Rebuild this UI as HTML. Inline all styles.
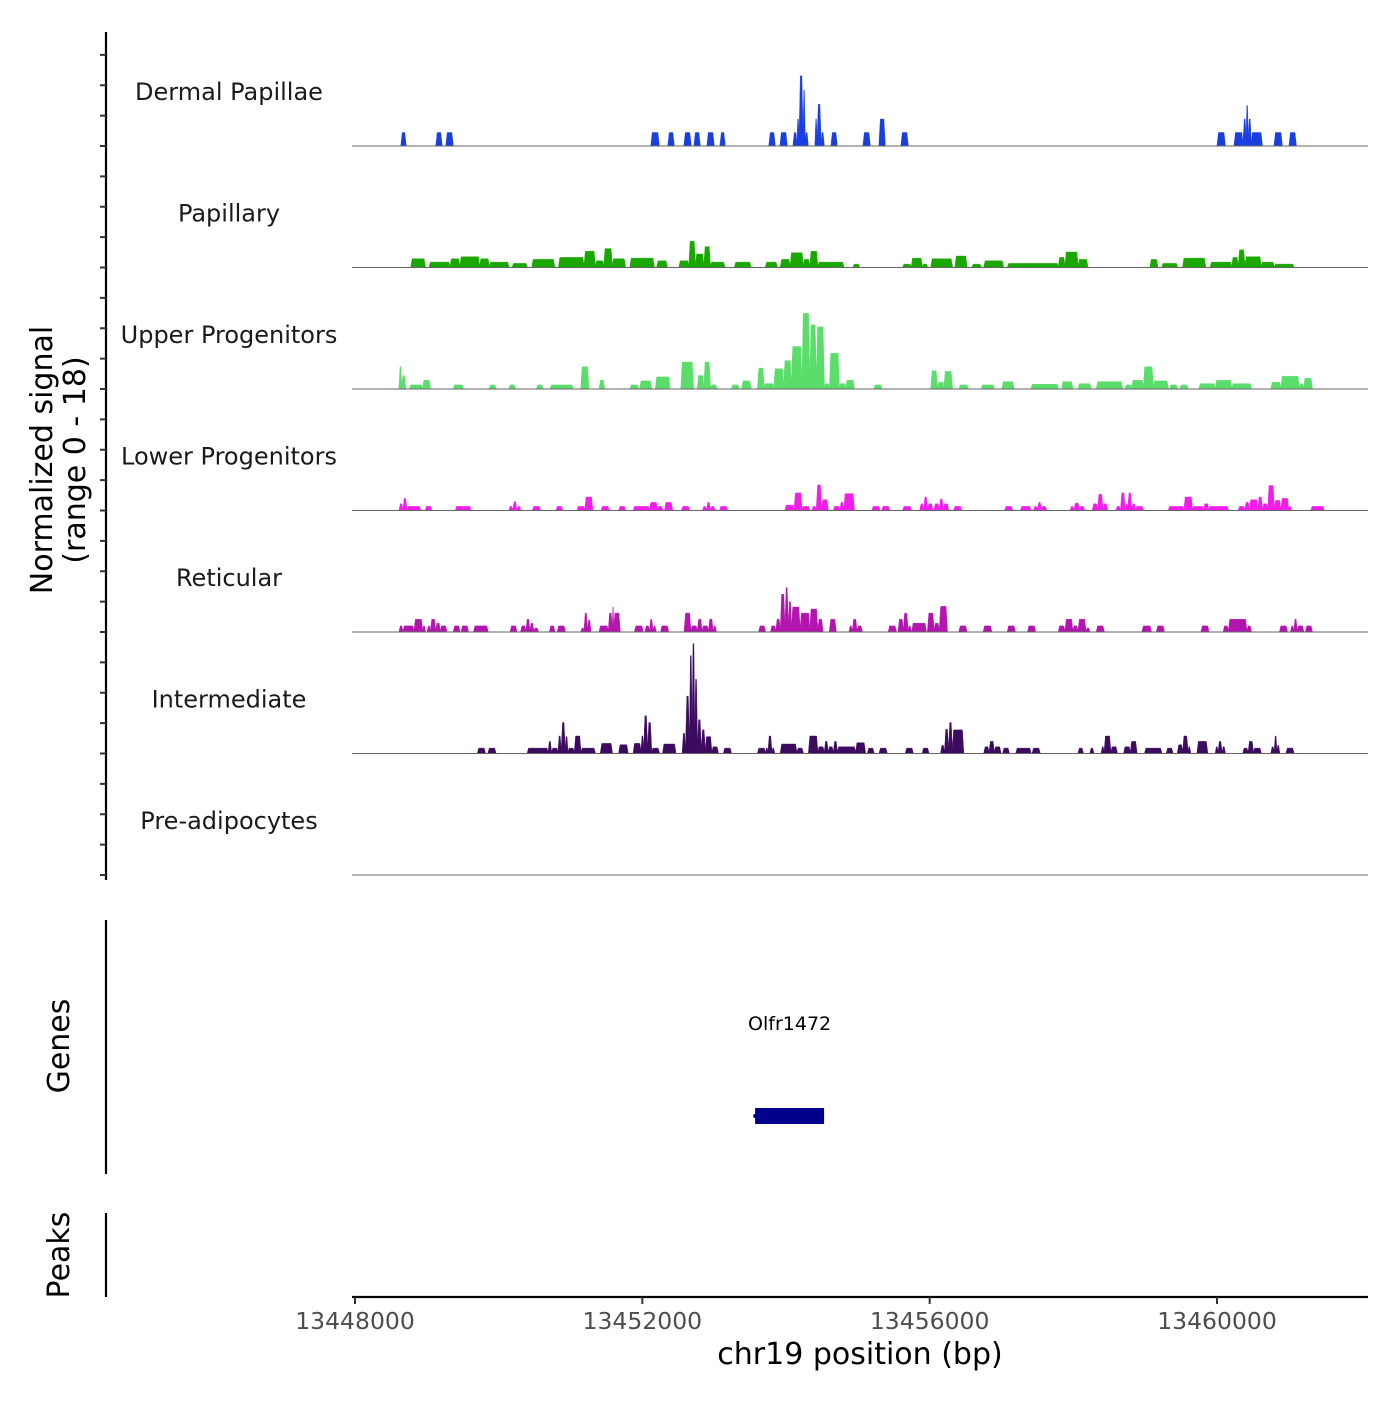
<!DOCTYPE html>
<html><head><meta charset="utf-8"><style>
body{margin:0;background:#fff}
svg text{font-family:"DejaVu Sans","Liberation Sans",sans-serif}
</style></head><body>
<svg id="chart" width="1400" height="1400" viewBox="0 0 1400 1400" xmlns="http://www.w3.org/2000/svg">
<g id="tracks"></g>
<g id="axes"></g>
</svg>
<script>
const BASE = 13448000;
const trackNames = ["Dermal Papillae","Papillary","Upper Progenitors","Lower Progenitors","Reticular","Intermediate","Pre-adipocytes"];
const trackColors = ["#1a3fe0","#1aa800","#5add6a","#f01ee8","#b515af","#3c0a5e","#888888"];
const xTicks = [13448000,13452000,13456000,13460000];
const xTickLabels = ["13448000","13452000","13456000","13460000"];
const yRange = [0,18];
// segments: [startOffset, endOffset, value] offsets in bp from BASE
const dermal = [[640,710,2],[1128,1211,2],[1267,1365,2],[4121,4233,2],[4358,4442,2],[4581,4678,2],[4720,4804,2],[4901,4999,2],[5082,5152,2],[5764,5848,2],[5918,6015,2],[6099,6154,2],[6154,6182,4],[6182,6238,10.4],[6238,6266,8.3],[6266,6308,2],[6405,6433,4],[6433,6489,6.2],[6489,6530,2],[6628,6711,2],[7073,7171,2],[7296,7380,4],[7603,7700,2],[12003,12114,2],[12239,12364,2],[12364,12406,4],[12406,12434,6],[12434,12476,4],[12476,12629,2],[12796,12908,2],[13005,13102,2]];
const papillary = [[778,978,1.3],[1032,1324,0.8],[1324,1460,1.3],[1460,1734,1.6],[1734,1870,1.3],[1870,2143,0.8],[2189,2398,0.6],[2462,2780,1.2],[2835,3190,1.5],[3190,3345,2.4],[3345,3464,1],[3464,3582,2.8],[3582,3764,1.3],[3828,4165,1.4],[4201,4347,1],[4511,4648,1],[4648,4739,3.9],[4739,4857,2],[4857,4948,3.1],[4948,5148,0.8],[5285,5513,0.8],[5713,5877,0.8],[5922,6059,1.2],[6059,6241,2.2],[6241,6332,1.2],[6332,6442,2.4],[6442,6806,0.8],[6933,7024,0.5],[7625,7744,0.5],[7744,7898,1.4],[7898,7971,0.5],[8017,8317,1.3],[8354,8518,1.7],[8590,8718,0.5],[8755,9028,1],[9082,9792,0.6],[9792,9884,1.5],[9884,10066,2.3],[10066,10202,1.2],[11067,11176,1.2],[11231,11450,0.6],[11523,11841,1.4],[11905,12206,0.8],[12206,12297,1.5],[12297,12388,2.6],[12388,12616,1.6],[12616,12798,0.8],[12798,13071,0.5]];
const upper = [[614,650,3.3],[650,705,2],[759,941,0.6],[941,1050,1.3],[1370,1506,0.6],[1870,1961,0.6],[2143,2235,0.6],[2526,2617,0.6],[2717,3036,0.6],[3145,3254,3.3],[3400,3473,1.3],[3828,3946,0.6],[3965,4129,1.2],[4183,4384,1.8],[4538,4711,4],[4766,4857,2],[4857,4948,4],[4948,5039,0.6],[5240,5349,0.6],[5385,5513,1.2],[5604,5695,3.1],[5695,5832,0.8],[5832,5968,3],[5968,6077,4.2],[6077,6223,6.3],[6223,6332,11.2],[6332,6423,9.5],[6423,6533,9.2],[6533,6606,0.8],[6606,6742,5.3],[6742,6833,0.8],[6833,6951,1.3],[7225,7334,0.6],[8017,8108,2.7],[8108,8199,1],[8199,8317,2.6],[8408,8536,0.6],[8718,8900,0.6],[9009,9173,1.1],[9410,9792,0.7],[9838,9993,1.1],[10066,10248,0.8],[10321,10685,1.1],[10721,10812,0.6],[10812,10976,1.3],[10976,11113,3.3],[11113,11322,1.2],[11341,11450,0.6],[11486,11596,0.6],[11750,11978,0.8],[11978,12206,1.3],[12206,12479,0.8],[12752,12889,1],[12889,13145,1.9],[13145,13207,0.8],[13207,13326,1.6]];
const lower = [[614,668,1],[668,723,1.8],[723,914,0.6],[978,1069,0.6],[1397,1615,0.6],[2143,2198,0.6],[2198,2253,1.3],[2253,2307,0.6],[2471,2581,0.6],[2799,2890,0.6],[3090,3200,0.6],[3200,3309,2],[3427,3537,0.6],[3673,3764,0.6],[3874,4101,0.6],[4101,4211,1.2],[4211,4283,0.6],[4311,4420,1.2],[4547,4657,0.6],[4839,4894,0.6],[4894,4948,1.2],[4948,5012,0.6],[5076,5185,0.6],[5986,6114,0.8],[6114,6223,2.6],[6223,6332,0.6],[6360,6423,0.6],[6423,6496,3.8],[6496,6587,1.6],[6660,6751,0.6],[6751,6806,1.2],[6806,6951,2.5],[7197,7307,0.6],[7334,7443,0.6],[7625,7744,0.6],[7862,7917,1],[7917,7971,2],[7971,8044,1],[8062,8135,1],[8135,8190,1.7],[8190,8263,1],[8335,8445,0.6],[9046,9155,0.6],[9265,9410,0.6],[9447,9502,0.6],[9502,9556,1.2],[9556,9628,0.6],[9956,10011,0.6],[10011,10084,1.1],[10084,10157,0.6],[10266,10339,1],[10339,10412,2.4],[10412,10476,1],[10594,10658,0.6],[10658,10721,2.6],[10721,10758,1],[10758,10812,2.6],[10812,10867,1],[10867,10976,0.6],[11322,11541,0.6],[11541,11659,2],[11659,11814,0.6],[11814,11887,1],[11887,12160,0.6],[12297,12388,0.6],[12388,12452,1.2],[12452,12570,1.6],[12570,12634,2],[12634,12707,1],[12707,12798,3.7],[12798,12889,1.5],[12889,12998,1.8],[12998,13034,0.6],[13307,13489,0.6]];
const reticular = [[614,668,0.9],[668,823,0.9],[823,941,1.9],[941,978,0.9],[1005,1051,0.9],[1051,1124,1.9],[1124,1187,1.3],[1187,1278,0.9],[1370,1460,0.9],[1479,1579,0.9],[1652,1852,0.9],[2162,2253,0.9],[2307,2380,0.9],[2380,2435,1.9],[2435,2489,1.3],[2489,2553,0.6],[2708,2781,0.9],[2817,2927,0.9],[3145,3190,0.6],[3190,3236,2.8],[3236,3282,1.8],[3400,3528,0.9],[3528,3583,2.8],[3583,3601,3.7],[3601,3691,2.8],[3892,4010,0.9],[4038,4101,0.9],[4101,4147,1.9],[4147,4192,0.9],[4256,4365,0.9],[4584,4675,2.8],[4675,4766,0.9],[4766,4830,1.9],[4830,4921,0.9],[4921,4985,1.9],[4985,5030,0.9],[5622,5713,0.9],[5786,5859,0.9],[5859,5922,1.9],[5922,5986,5.6],[5986,6032,6.6],[6032,6077,4.5],[6077,6196,3.7],[6196,6332,2.8],[6332,6442,3.4],[6442,6514,1.9],[6606,6697,1.9],[6879,6924,0.9],[6924,6988,1.9],[6988,7061,0.9],[7425,7535,0.9],[7562,7634,1.9],[7634,7698,2.8],[7698,7744,0.9],[7753,7953,1.3],[7971,8062,2.8],[8062,8135,1.3],[8135,8245,3.8],[8408,8518,0.9],[8746,8864,0.9],[9082,9191,0.9],[9365,9474,0.9],[9792,9884,0.9],[9884,9993,1.9],[9993,10066,0.9],[10066,10175,1.9],[10175,10230,0.6],[10321,10430,0.9],[10958,11085,0.9],[11158,11267,0.9],[11778,11887,0.9],[12088,12160,0.9],[12160,12415,1.9],[12415,12479,0.9],[12871,12980,0.9],[13025,13071,0.9],[13071,13116,1.9],[13116,13207,0.9],[13234,13326,0.9]];
const intermediate = [[1706,1816,0.8],[1852,1961,0.8],[2398,2690,0.8],[2690,2735,1.8],[2735,2826,0.8],[2826,2872,2.6],[2872,2926,4.6],[2926,2963,2.5],[2963,3054,0.8],[3054,3145,2.6],[3145,3345,0.8],[3418,3582,1.5],[3673,3801,1.3],[3874,3983,1.5],[3983,4019,2.6],[4019,4074,5.6],[4074,4129,4.6],[4129,4238,0.8],[4283,4466,1.4],[4556,4602,3],[4602,4657,8.5],[4657,4693,14.5],[4693,4730,16.3],[4730,4766,11],[4766,4821,5],[4821,4876,3.5],[4876,4967,2.5],[4967,5058,1],[5130,5240,0.8],[5604,5713,0.8],[5713,5750,0.8],[5750,5804,2.6],[5804,5841,0.8],[5922,6150,1.4],[6150,6241,0.8],[6314,6442,2.6],[6442,6533,1],[6533,6588,1.8],[6588,6660,1],[6660,6715,1.8],[6715,6970,1],[6970,7106,1.6],[7134,7225,0.8],[7298,7407,0.8],[7662,7771,0.8],[7898,7989,0.8],[8153,8208,1.2],[8208,8263,3.6],[8263,8317,4.6],[8317,8472,3.5],[8755,8827,1],[8827,8900,1.8],[8900,8991,1],[9018,9109,0.8],[9200,9410,0.8],[9429,9538,0.8],[10066,10139,0.8],[10230,10285,0.8],[10389,10430,1],[10430,10521,2.6],[10521,10612,1],[10703,10794,1],[10794,10885,1.8],[10994,11231,0.8],[11295,11386,0.8],[11450,11523,1.3],[11523,11596,2.6],[11596,11632,1],[11723,11869,1.8],[11978,12015,1],[12015,12070,1.8],[12070,12115,1],[12361,12434,0.8],[12434,12507,1.8],[12507,12616,0.8],[12752,12798,1],[12798,12834,2.6],[12834,12871,1.2],[12962,13071,0.8]];
const preadipocytes = [];
const trackData = [dermal,papillary,upper,lower,reticular,intermediate,preadipocytes];
const geneName = "Olfr1472";
const geneStart = 13453570, geneEnd = 13454530;

const NS="http://www.w3.org/2000/svg";
const plotL=352, plotR=1368;
const xScale = bp => 355 + (bp-13448000)*(1217-355)/12000;
const baseY = i => 146 + i*121.5;
const trackH = 121.5;
const yScale = (i,v) => baseY(i) - (v-yRange[0])/(yRange[1]-yRange[0])*trackH;
function mk(tag,attrs,parent,text){const e=document.createElementNS(NS,tag);for(const k in attrs)e.setAttribute(k,attrs[k]);if(text!==undefined)e.textContent=text;parent.appendChild(e);return e;}
const tg=document.getElementById('tracks'), ag=document.getElementById('axes');

trackData.forEach((segs,i)=>{
  const g=mk('g',{},tg);
  
  
  let d='';
  segs.forEach(s=>{
    const x0=xScale(BASE+s[0]), x1=xScale(BASE+s[1]), y0=baseY(i), y1=yScale(i,s[2]);
    const sl=Math.min(1.2,(x1-x0)/3);
    d+=`M${(x0-0.3).toFixed(1)},${y0}L${(x0+sl).toFixed(1)},${y1.toFixed(1)}L${(x1-sl).toFixed(1)},${y1.toFixed(1)}L${(x1+0.3).toFixed(1)},${y0}Z`;
  });
  if(d){const p=mk('path',{d:d,fill:trackColors[i],stroke:trackColors[i],'stroke-width':0.4},g);
    
    }
  const bl=mk('line',{x1:plotL,x2:plotR,y1:baseY(i),y2:baseY(i),stroke:'#666','stroke-width':1},g);
  
  
  const lb=mk('text',{x:229,y:baseY(i)-46,'text-anchor':'middle','font-size':'24',fill:'#1a1a1a'},g,trackNames[i]);
  
  
});

// left y axis
mk('line',{x1:106,x2:106,y1:32,y2:880,stroke:'#000','stroke-width':2.2},ag);
for(let k=0;k<28;k++){const y=875-k*30.375;mk('line',{x1:100,x2:106,y1:y,y2:y,stroke:'#333','stroke-width':2},ag);}
const yt=mk('text',{transform:'translate(52,460) rotate(-90)','text-anchor':'middle','font-size':'30',fill:'#000'},ag);


mk('tspan',{x:0,y:0},yt,'Normalized signal');
mk('tspan',{x:0,y:33},yt,'(range 0 - 18)');

// genes
mk('line',{x1:106,x2:106,y1:920,y2:1174,stroke:'#000','stroke-width':2.2},ag);
const gt=mk('text',{transform:'translate(69,1046) rotate(-90)','text-anchor':'middle','font-size':'30',fill:'#000'},ag,'Genes');

const gx0=xScale(geneStart), gx1=xScale(geneEnd);
const gr=mk('rect',{x:gx0,y:1108,width:gx1-gx0,height:16,fill:'#00008b'},ag);


mk('circle',{cx:gx0,cy:1116,r:2,fill:'#00008b'},ag);
const gl=mk('text',{x:(gx0+gx1)/2,y:1030,'text-anchor':'middle','font-size':'19',fill:'#000'},ag,geneName);


// peaks
mk('line',{x1:106,x2:106,y1:1213,y2:1297,stroke:'#000','stroke-width':2.2},ag);
const pt=mk('text',{transform:'translate(69,1255) rotate(-90)','text-anchor':'middle','font-size':'30',fill:'#000'},ag,'Peaks');


// x axis
mk('line',{x1:plotL,x2:plotR,y1:1297,y2:1297,stroke:'#000','stroke-width':2.2},ag);
xTicks.forEach((t,j)=>{const x=xScale(t);
  mk('line',{x1:x,x2:x,y1:1297,y2:1304,stroke:'#333','stroke-width':2},ag);
  const tl=mk('text',{x:x,y:1329,'text-anchor':'middle','font-size':'23.5',fill:'#4d4d4d'},ag,xTickLabels[j]);
  
  
});
const xt=mk('text',{x:860,y:1364,'text-anchor':'middle','font-size':'30',fill:'#000'},ag,'chr19 position (bp)');


</script>
</body></html>
